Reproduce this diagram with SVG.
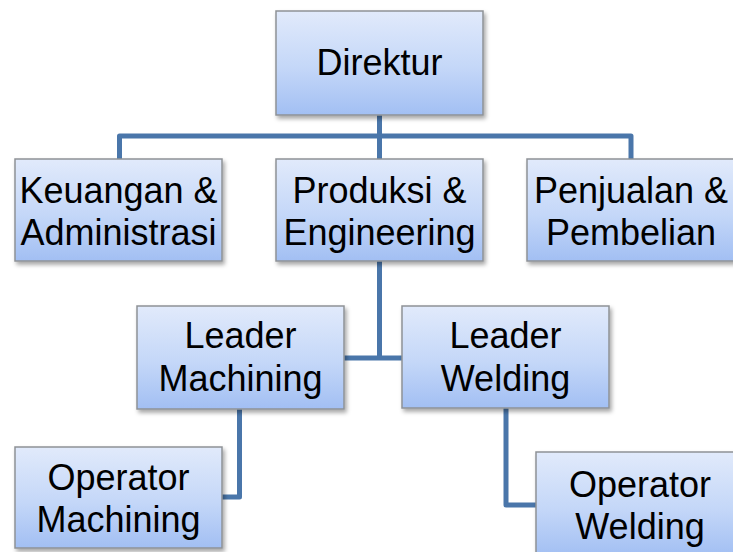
<svg xmlns="http://www.w3.org/2000/svg" width="733" height="552" viewBox="0 0 733 552">
  <style>
    .box { fill: url(#boxFill); stroke: #8e9296; stroke-width: 1.5; filter: url(#shadow); }
    .label { font-family: "Liberation Sans", Arial, sans-serif; font-size: 36px; fill: #000; text-anchor: middle; }
    .link { fill: none; stroke: #4a76aa; stroke-width: 5; stroke-linejoin: round; }
  </style>
  <defs>
    <linearGradient id="boxFill" x1="0" y1="0" x2="0" y2="1">
      <stop offset="0" stop-color="#e1eafb"/>
      <stop offset="0.55" stop-color="#c4d7f8"/>
      <stop offset="1" stop-color="#a2bff3"/>
    </linearGradient>
    <filter id="shadow" x="-10%" y="-10%" width="125%" height="130%">
      <feDropShadow dx="2" dy="3" stdDeviation="2" flood-color="#000" flood-opacity="0.35"/>
    </filter>
  </defs>

  <rect width="733" height="552" fill="#fff"/>

  <g id="connectors">
    <path class="link" d="M119.5 159 V136 H631 V159"/>
    <path class="link" d="M379.5 115 V159"/>
    <path class="link" d="M379.5 261 V358"/>
    <path class="link" d="M344 358 H402"/>
    <path class="link" d="M239.5 409 V497 H222"/>
    <path class="link" d="M506 408 V505 H536"/>
  </g>

  <g id="direktur">
    <rect class="box" x="276" y="11" width="207" height="104"/>
    <text class="label" x="379.5" y="75">Direktur</text>
  </g>

  <g id="keuangan">
    <rect class="box" x="15" y="159" width="207" height="102"/>
    <text class="label" x="118.5" y="203">Keuangan &amp;</text>
    <text class="label" x="118.5" y="245">Administrasi</text>
  </g>

  <g id="produksi">
    <rect class="box" x="276" y="159" width="207" height="102"/>
    <text class="label" x="379.5" y="203">Produksi &amp;</text>
    <text class="label" x="379.5" y="245">Engineering</text>
  </g>

  <g id="penjualan">
    <rect class="box" x="527" y="159" width="208" height="102"/>
    <text class="label" x="631" y="203">Penjualan &amp;</text>
    <text class="label" x="631" y="245">Pembelian</text>
  </g>

  <g id="leader-machining">
    <rect class="box" x="137" y="306" width="207" height="103"/>
    <text class="label" x="240.5" y="348">Leader</text>
    <text class="label" x="240.5" y="391">Machining</text>
  </g>

  <g id="leader-welding">
    <rect class="box" x="402" y="306" width="207" height="102"/>
    <text class="label" x="505.5" y="348">Leader</text>
    <text class="label" x="505.5" y="391">Welding</text>
  </g>

  <g id="operator-machining">
    <rect class="box" x="15" y="447" width="207" height="101"/>
    <text class="label" x="118.5" y="490">Operator</text>
    <text class="label" x="118.5" y="532">Machining</text>
  </g>

  <g id="operator-welding">
    <rect class="box" x="536" y="452" width="208" height="104"/>
    <text class="label" x="640" y="497">Operator</text>
    <text class="label" x="640" y="539">Welding</text>
  </g>
</svg>
